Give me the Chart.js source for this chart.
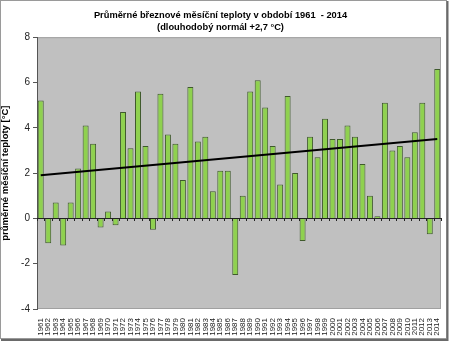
<!DOCTYPE html>
<html><head><meta charset="utf-8">
<script src="https://cdn.jsdelivr.net/npm/chart.js@4/dist/chart.umd.min.js"></script>
<style>html,body{margin:0;padding:0;background:#fff;}canvas{display:block;}</style>
</head><body>
<canvas id="c" width="450" height="342"></canvas>
<script>
const years = [1961,1962,1963,1964,1965,1966,1967,1968,1969,1970,1971,1972,1973,1974,1975,1976,1977,1978,1979,1980,1981,1982,1983,1984,1985,1986,1987,1988,1989,1990,1991,1992,1993,1994,1995,1996,1997,1998,1999,2000,2001,2002,2003,2004,2005,2006,2007,2008,2009,2010,2011,2012,2013,2014];
const temps = [5.2,-1.1,0.7,-1.2,0.7,2.2,4.1,3.3,-0.4,0.3,-0.3,4.7,3.1,5.6,3.2,-0.5,5.5,3.7,3.3,1.7,5.8,3.4,3.6,1.2,2.1,2.1,-2.5,1.0,5.6,6.1,4.9,3.2,1.5,5.4,2.0,-1.0,3.6,2.7,4.4,3.5,3.5,4.1,3.6,2.4,1.0,0.1,5.1,3.0,3.2,2.7,3.8,5.1,-0.7,6.6];
const trendStart = 1.9;
const trendEnd = 3.5;
const yTicks = [-4,-2,0,2,4,6,8];
const titleLines = ['Průměrné březnové měsíční teploty v období 1961  - 2014','(dlouhodobý normál +2,7 °C)'];
const yTitle = 'průměrné měsíční teploty [°C]';

const trend = years.map((y,i)=> i===0 ? trendStart : (i===years.length-1 ? trendEnd : null));

const framePlugin = {
  id:'frame',
  beforeDraw(chart){
    const {ctx, chartArea:a} = chart;
    ctx.save();
    ctx.fillStyle='#fff';
    ctx.fillRect(0,0,chart.width,chart.height);
    ctx.strokeStyle='#9a9a9a';
    ctx.lineWidth=1;
    ctx.strokeRect(0.5,0.5,446,338);
    ctx.strokeStyle='#6a6a6a';
    ctx.lineWidth=2;
    ctx.beginPath();
    ctx.moveTo(447.5,1);ctx.lineTo(447.5,340);ctx.lineTo(1,340);
    ctx.stroke();
    ctx.fillStyle='#c0c0c0';
    ctx.fillRect(a.left,a.top,a.right-a.left,a.bottom-a.top);
    ctx.strokeStyle='#a0a0a0';
    ctx.lineWidth=1;
    ctx.strokeRect(a.left+0.5,a.top+0.5,a.right-a.left-1,a.bottom-a.top-1);
    ctx.restore();
  },
  afterDatasetsDraw(chart){
    const {ctx} = chart;
    const xs = chart.scales.x, ys = chart.scales.y;
    const y0 = ys.getPixelForValue(0);
    const step = xs.getPixelForValue(1)-xs.getPixelForValue(0);
    ctx.save();
    ctx.strokeStyle='#222';
    ctx.lineWidth=1;
    ctx.beginPath();
    ctx.moveTo(chart.chartArea.left, Math.round(y0)+0.5);
    ctx.lineTo(chart.chartArea.right, Math.round(y0)+0.5);
    for(let i=0;i<=years.length;i++){
      const px = xs.getPixelForValue(0) - step/2 + i*step;
      ctx.moveTo(Math.round(px)+0.5, Math.round(y0));
      ctx.lineTo(Math.round(px)+0.5, Math.round(y0)+3);
    }
    ctx.stroke();
    ctx.restore();
  }
};

new Chart(document.getElementById('c'), {
  data:{
    labels: years.map(String),
    datasets:[
      {type:'line', data:trend, borderColor:'#000', borderWidth:2, pointRadius:0, spanGaps:true, fill:false, order:0},
      {type:'bar', data:temps, backgroundColor:'#8fd14f', borderColor:'#3f5a2c', borderWidth:1, barPercentage:0.8, categoryPercentage:1, order:1}
    ]
  },
  options:{
    responsive:false,
    animation:false,
    layout:{padding:{left:0,right:9,top:0,bottom:3}},
    plugins:{
      legend:{display:false},
      tooltip:{enabled:false},
      title:{display:true, text:titleLines, color:'#000', font:{family:'Liberation Sans, Arial, sans-serif', size:9.3, weight:'bold', lineHeight:1.3}, padding:{top:9,bottom:4}}
    },
    scales:{
      x:{
        grid:{display:false},
        border:{display:false},
        ticks:{autoSkip:false, maxRotation:90, minRotation:90, color:'#222', padding:1, font:{family:'Liberation Sans, Arial, sans-serif', size:8}},
        afterFit(s){ s.height = 30; }
      },
      y:{
        min:-4, max:8,
        afterBuildTicks(s){ s.ticks = yTicks.map(v=>({value:v})); },
        grid:{drawOnChartArea:false, drawTicks:true, tickLength:4, tickColor:'#555'},
        border:{display:true, color:'#555', width:1},
        ticks:{color:'#222', padding:3, font:{family:'Liberation Sans, Arial, sans-serif', size:10}},
        title:{display:true, text:yTitle, color:'#000', padding:{top:0,bottom:3}, font:{family:'Liberation Sans, Arial, sans-serif', size:9.5, weight:'bold'}},
        afterFit(s){ s.width = 37; }
      }
    }
  },
  plugins:[framePlugin]
});
</script>
</body></html>
